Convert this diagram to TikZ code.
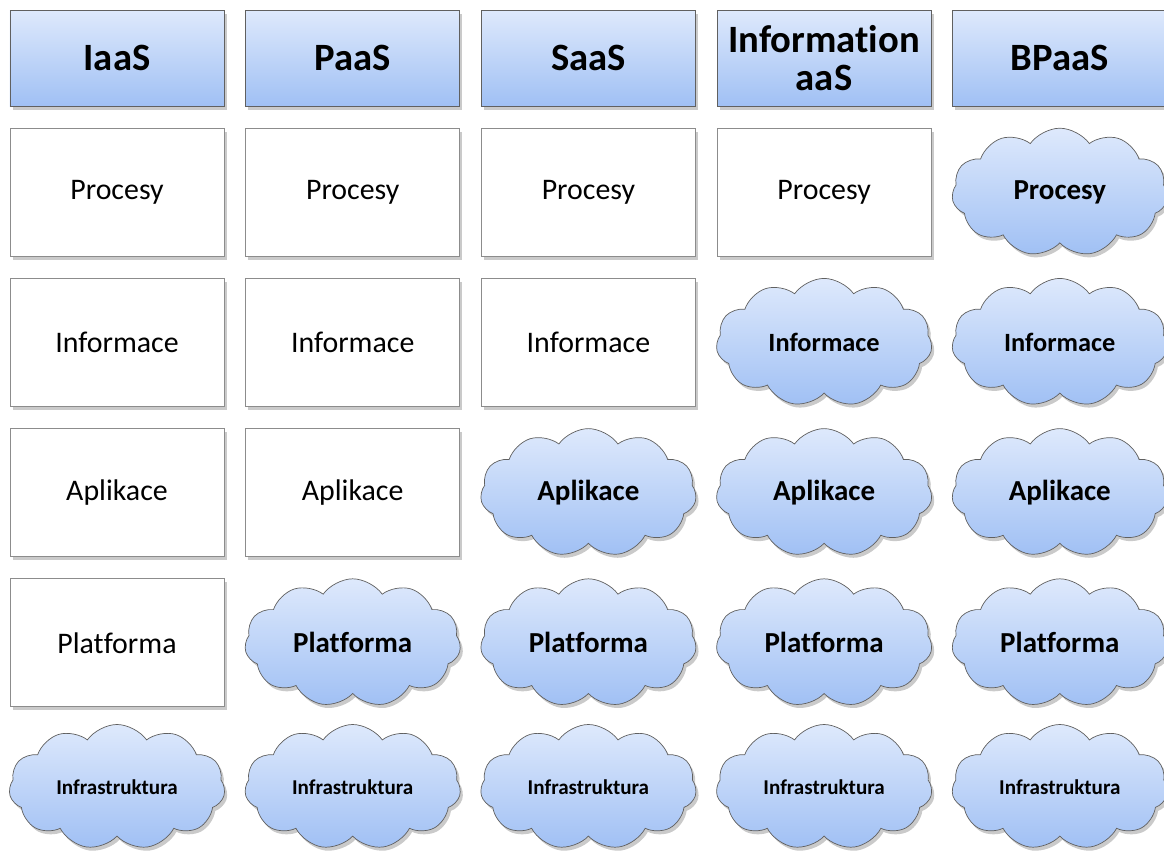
\documentclass[tikz,border=0pt]{standalone}
\usepackage{fontspec}
\setmainfont{Carlito}[Ligatures=NoCommon]
\definecolor{skytop}{RGB}{222, 233, 252}
\definecolor{skybottom}{RGB}{160, 192, 244}
\definecolor{edgegray}{RGB}{96, 96, 96}
\definecolor{boxgray}{RGB}{140, 140, 140}
\usepackage{tikz}
\usetikzlibrary{shapes.symbols, positioning, shadows}
\tikzset{
    softshadow/.style={drop shadow={shadow xshift=1.5pt, shadow yshift=-2pt, opacity=0.35, fill=black!60}},
    headbox/.style={draw=edgegray, rectangle, minimum width=4.28cm, minimum height=1.92cm, top color=skytop, bottom color=skybottom, softshadow, align=center, font=\bfseries\fontsize{22}{22}\selectfont},
    layerbox/.style={draw=boxgray, rectangle, fill=white, minimum width=4.28cm, minimum height=2.56cm, softshadow, font=\fontsize{17}{19}\selectfont},
    cloudbox/.style={draw=edgegray, cloud, cloud puffs=11, cloud puff arc=110, cloud ignores aspect, minimum width=4.32cm, minimum height=2.56cm, inner sep=0pt, top color=skytop, bottom color=skybottom, softshadow, font=\bfseries\fontsize{16.5}{18}\selectfont},
    infocloud/.style={cloudbox, font=\bfseries\fontsize{15}{17}\selectfont},
    infracloud/.style={cloudbox, minimum height=2.5cm, font=\bfseries\fontsize{12}{14}\selectfont},
}
\begin{document}
\begin{tikzpicture}[node distance=0.43cm]
    \useasboundingbox (0,0) rectangle (23.28,-17.06);
    % column heads
    \node[headbox] (h1) at (2.34,-1.16) {IaaS};
    \node[headbox, right=0.42cm of h1] (h2) {PaaS};
    \node[headbox, right=0.42cm of h2] (h3) {SaaS};
    \node[headbox, right=0.42cm of h3] (h4) {Information\\aaS};
    \node[headbox, right=0.42cm of h4] (h5) {BPaaS};

    % Procesy
    \node[layerbox, below=of h1] (p1) {Procesy};
    \node[layerbox, below=of h2] (p2) {Procesy};
    \node[layerbox, below=of h3] (p3) {Procesy};
    \node[layerbox, below=of h4] (p4) {Procesy};
    \node[cloudbox] (p5) at (h5 |- p1) {Procesy};

    % Informace
    \node[layerbox, below=of p1] (i1) {Informace};
    \node[layerbox, below=of p2] (i2) {Informace};
    \node[layerbox, below=of p3] (i3) {Informace};
    \node[infocloud] (i4) at (h4 |- i1) {Informace};
    \node[infocloud] (i5) at (h5 |- i1) {Informace};

    % Aplikace
    \node[layerbox, below=of i1] (a1) {Aplikace};
    \node[layerbox, below=of i2] (a2) {Aplikace};
    \node[cloudbox] (a3) at (h3 |- a1) {Aplikace};
    \node[cloudbox] (a4) at (h4 |- a1) {Aplikace};
    \node[cloudbox] (a5) at (h5 |- a1) {Aplikace};

    % Platforma
    \node[layerbox, below=of a1] (f1) {Platforma};
    \node[cloudbox] (f2) at (h2 |- f1) {Platforma};
    \node[cloudbox] (f3) at (h3 |- f1) {Platforma};
    \node[cloudbox] (f4) at (h4 |- f1) {Platforma};
    \node[cloudbox] (f5) at (h5 |- f1) {Platforma};

    % Infrastruktura
    \node[infracloud] (n1) at (2.34,-15.74) {Infrastruktura};
    \node[infracloud] (n2) at (h2 |- n1) {Infrastruktura};
    \node[infracloud] (n3) at (h3 |- n1) {Infrastruktura};
    \node[infracloud] (n4) at (h4 |- n1) {Infrastruktura};
    \node[infracloud] (n5) at (h5 |- n1) {Infrastruktura};
\end{tikzpicture}
\end{document}
